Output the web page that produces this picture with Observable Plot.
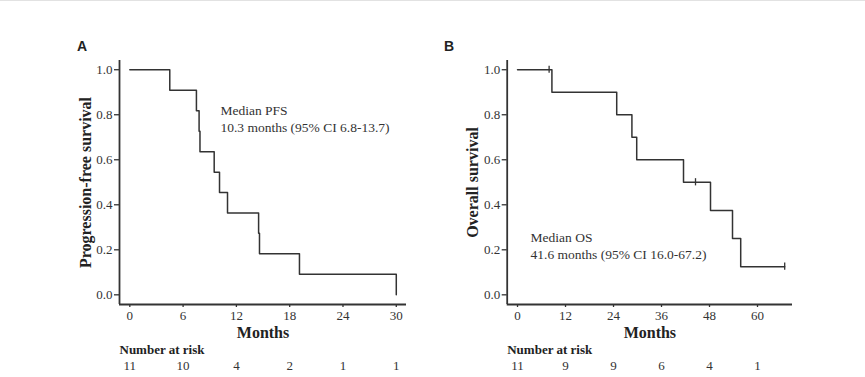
<!DOCTYPE html>
<html>
<head>
<meta charset="utf-8">
<script src="https://cdn.jsdelivr.net/npm/d3@7"></script>
<script src="https://cdn.jsdelivr.net/npm/@observablehq/plot@0.6"></script>
<style>
  html, body { margin: 0; padding: 0; background: #fff; }
  #fig { position: relative; width: 865px; height: 377px; overflow: hidden; border-top: 1px solid #e2e2e2; box-sizing: border-box; }
  .panel { position: absolute; top: -1px; }
  .lab { position: absolute; font-family: "Liberation Sans", Arial, sans-serif; font-weight: bold; font-size: 14px; color: #222; }
</style>
</head>
<body>
<div id="fig">
  <div class="lab" style="left:77px; top:37px;">A</div>
  <div class="lab" style="left:444px; top:37px;">B</div>
  <div id="pa" class="panel" style="left:0px;"></div>
  <div id="pb" class="panel" style="left:432px;"></div>
</div>
<script>
// ---- data ----
const pfsTime = [0, 4.5, 7.5, 7.8, 7.9, 9.5, 10.1, 11.0, 14.5, 14.6, 19.1, 30.0];
const pfsSurv = [1.0, 0.909, 0.818, 0.727, 0.636, 0.545, 0.455, 0.364, 0.273, 0.182, 0.091, 0.0];

const osTime = [0, 8.6, 24.8, 28.6, 29.8, 41.5, 48.25, 53.75, 55.8, 66.8];
const osSurv = [1.0, 0.9, 0.8, 0.7, 0.6, 0.5, 0.375, 0.25, 0.125, 0.125];
const osCensorTime = [7.9, 44.5, 66.8];
const osCensorSurv = [1.0, 0.5, 0.125];

const pfsTicks = [0, 6, 12, 18, 24, 30];
const pfsRisk = [11, 10, 4, 2, 1, 1];
const osTicks = [0, 12, 24, 36, 48, 60];
const osRisk = [11, 9, 9, 6, 4, 1];
const yTicks = [0, 0.2, 0.4, 0.6, 0.8, 1.0];

const pfsNote = "Median PFS\n10.3 months (95% CI 6.8-13.7)";
const osNote = "Median OS\n41.6 months (95% CI 16.0-67.2)";

const ink = "#333";
const serif = "'Liberation Serif', 'Times New Roman', serif";

function panel({width, marginLeft, marginRight, xDomain, times, surv, cTimes, cSurv, ticks, risk, yTitle, note, noteX, noteY}) {
  const yDomain = [-0.043, 1.041];
  const steps = times.map((t, i) => ({t, s: surv[i]}));
  const cens = (cTimes || []).map((t, i) => ({t, s: cSurv[i]}));
  return Plot.plot({
    width, height: 377,
    marginTop: 60, marginBottom: 73, marginLeft, marginRight,
    x: {domain: xDomain},
    y: {domain: yDomain},
    style: {fontFamily: serif, fontSize: "13px", color: ink, background: "transparent", overflow: "visible"},
    marks: [
      Plot.axisY(yTicks, {tickFormat: d3.format(".1f"), tickSize: 5, tickPadding: 2, label: null, strokeWidth: 1.3, fontSize: 13}),
      Plot.axisX(ticks, {tickSize: 3, tickPadding: 3, label: null, strokeWidth: 1.3, fontSize: 13}),
      Plot.ruleX([xDomain[0]], {stroke: ink, strokeWidth: 1.8}),
      Plot.ruleY([yDomain[0]], {stroke: ink, strokeWidth: 1.8}),
      Plot.line(steps, {x: "t", y: "s", curve: "step-after", stroke: ink, strokeWidth: 1.5}),
      Plot.ruleX(cens, {x: "t", y1: d => d.s - 0.016, y2: d => d.s + 0.016, stroke: ink, strokeWidth: 1.3}),
      Plot.text([note], {x: noteX, y: noteY, text: d => d, textAnchor: "start", lineAnchor: "middle", lineHeight: 1.25, fontSize: 13.5, fill: ink}),
      Plot.text([yTitle], {frameAnchor: "left", textAnchor: "middle", lineAnchor: "middle", rotate: -90, dx: -34, text: d => d, fontWeight: "bold", fontSize: 16, fill: "#222"}),
      Plot.text(["Months"], {frameAnchor: "bottom", lineAnchor: "middle", dy: 28, text: d => d, fontWeight: "bold", fontSize: 16, fill: "#222"}),
      Plot.text(["Number at risk"], {frameAnchor: "bottom-left", textAnchor: "start", lineAnchor: "middle", dy: 45, text: d => d, fontWeight: "bold", fontSize: 13, fill: "#222"}),
      Plot.text(ticks, {x: d => d, frameAnchor: "bottom", lineAnchor: "middle", dy: 61, text: (d, i) => String(risk[i]), fontSize: 13, fill: ink})
    ]
  });
}

document.getElementById("pa").append(panel({
  width: 432, marginLeft: 119, marginRight: 26, xDomain: [-1.16, 31.15],
  times: pfsTime, surv: pfsSurv, ticks: pfsTicks, risk: pfsRisk,
  yTitle: "Progression-free survival", note: pfsNote, noteX: 10.2, noteY: 0.787
}));

document.getElementById("pb").append(panel({
  width: 433, marginLeft: 74.7, marginRight: 73, xDomain: [-2.58, 68.75],
  times: osTime, surv: osSurv, cTimes: osCensorTime, cSurv: osCensorSurv, ticks: osTicks, risk: osRisk,
  yTitle: "Overall survival", note: osNote, noteX: 3.25, noteY: 0.219
}));
</script>
</body>
</html>
